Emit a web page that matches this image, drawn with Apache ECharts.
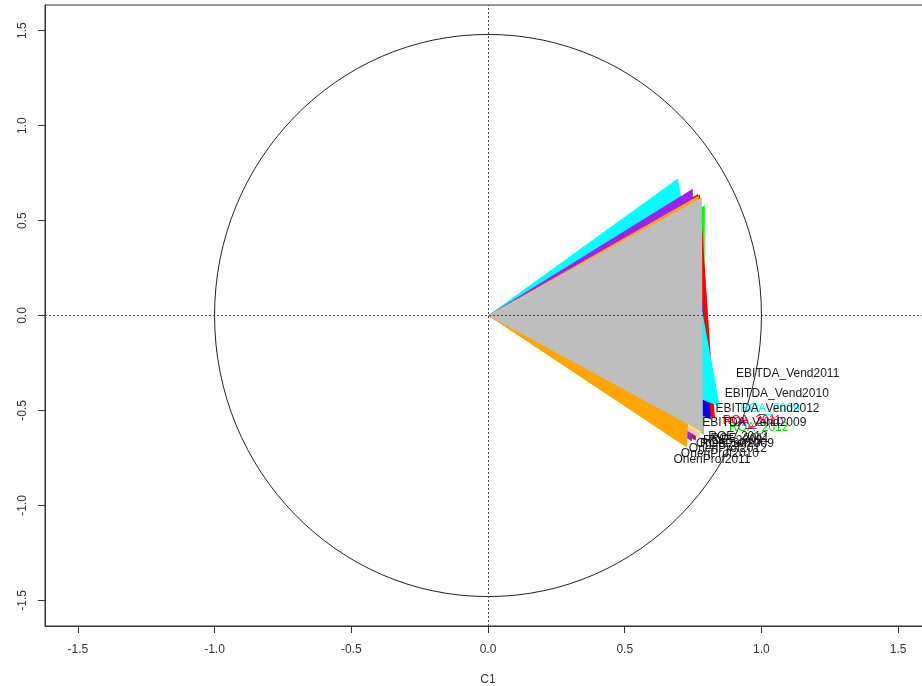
<!DOCTYPE html>
<html>
<head>
<meta charset="utf-8">
<script src="https://cdn.jsdelivr.net/npm/echarts@6/dist/echarts.min.js"></script>
<style>
  html, body { margin: 0; padding: 0; background: #ffffff; }
  #chart { width: 922px; height: 686px; }
</style>
</head>
<body>
<div id="chart"></div>
<script>
// Axis ticks (both axes)
const tickValues = [-1.5, -1.0, -0.5, 0.0, 0.5, 1.0, 1.5];

// Fans: each one is a triangle from the origin to an upper and a lower vertex
// (listed in drawing order, back to front)
const fanUpperX = [0.793, 0.775, 0.757, 0.694, 0.768, 0.749, 0.765, 0.770, 0.771, 0.782];
const fanUpperY = [0.579, 0.637, 0.605, 0.721, 0.640, 0.668, 0.610, 0.600, 0.632, 0.621];
const fanLowerX = [0.789, 0.830, 0.815, 0.848, 0.760, 0.746, 0.775, 0.782, 0.727, 0.786];
const fanLowerY = [-0.626, -0.542, -0.547, -0.479, -0.660, -0.663, -0.647, -0.621, -0.695, -0.616];

// Variable labels and their positions
const labelText = [
  'OneriProf2009', 'OneriProf2012', 'OneriProf2010', 'OneriProf2011',
  'ROE_2012', 'ROE_2009', 'ROE_2011', 'ROE_2010',
  'ROA_2012', 'ROA_2010', 'ROA_2011', 'ROA_2009',
  'EBITDA_Vend2009', 'EBITDA_Vend2012', 'EBITDA_Vend2010', 'EBITDA_Vend2011'
];
const labelX = [
  0.903, 0.877, 0.848, 0.819,
  0.914, 0.895, 0.921, 0.884,
  0.990, 0.972, 0.965, 1.031,
  0.974, 1.022, 1.056, 1.096
];
const labelY = [
  -0.674, -0.700, -0.726, -0.758,
  -0.637, -0.658, -0.647, -0.674,
  -0.589, -0.563, -0.553, -0.489,
  -0.563, -0.489, -0.411, -0.305
];

// Correlation circle radii (x, y)
const circleRadius = [1.0, 1.48];

// Styles
const fanColors = ['#00FF00', '#FF0000', '#0000FF', '#00FFFF', '#A52A2A', '#A020F0', '#FFC0CB', '#FFFF00', '#FFA500', '#BEBEBE'];
const labelColors = [
  '#1a1a1a', '#1a1a1a', '#1a1a1a', '#1a1a1a',
  '#1a1a1a', '#1a1a1a', '#1a1a1a', '#1a1a1a',
  '#00DD00', '#A020F0', '#FF0000', '#00FFFF',
  '#1a1a1a', '#1a1a1a', '#1a1a1a', '#1a1a1a'
];
const FONT = '"Liberation Sans", Arial, sans-serif';

const fanData = fanUpperX.map((_, i) => [fanUpperX[i], fanUpperY[i], fanLowerX[i], fanLowerY[i]]);
const labelData = labelText.map((t, i) => ({ value: [labelX[i], labelY[i]], name: t }));

const chart = echarts.init(document.getElementById('chart'), null, { renderer: 'canvas' });

const axisCommon = {
  type: 'value',
  min: -1.62,
  max: 1.62,
  splitLine: { show: false },
  axisLine: { show: true, onZero: false, lineStyle: { color: '#333', width: 1 } },
  axisTick: { show: true, length: 7, customValues: tickValues, lineStyle: { color: '#333' } },
  axisLabel: {
    customValues: tickValues,
    formatter: v => Number(v).toFixed(1),
    color: '#333',
    fontFamily: FONT,
    fontSize: 12,
    margin: 18
  },
  nameLocation: 'middle',
  nameTextStyle: { fontFamily: FONT, fontSize: 12, color: '#333' }
};

chart.setOption({
  animation: false,
  backgroundColor: '#ffffff',
  grid: {
    left: 45, top: 5, width: 886, height: 621,
    show: true, borderColor: '#333', borderWidth: 1,
    containLabel: false, outerBoundsMode: 'none'
  },
  xAxis: Object.assign({}, axisCommon, {
    name: 'C1',
    nameGap: 48
  }),
  yAxis: Object.assign({}, axisCommon, {
    min: -1.635,
    max: 1.635,
    name: 'C2',
    nameGap: 47,
    nameTextStyle: { fontFamily: FONT, fontSize: 12, color: '#00FFFF' },
    axisLabel: Object.assign({}, axisCommon.axisLabel, { rotate: 90, margin: 16 })
  }),
  series: [
    {
      // coloured fans
      type: 'custom',
      coordinateSystem: 'cartesian2d',
      data: fanData,
      encode: { x: [0, 2], y: [1, 3] },
      clip: true,
      silent: true,
      renderItem: function (params, api) {
        const o = api.coord([0, 0]);
        const a = api.coord([api.value(0), api.value(1)]);
        const b = api.coord([api.value(2), api.value(3)]);
        return {
          type: 'polygon',
          shape: { points: [o, a, b] },
          style: { fill: fanColors[params.dataIndex], stroke: null }
        };
      },
      z: 2
    },
    {
      // circle and dotted reference lines
      type: 'custom',
      coordinateSystem: 'cartesian2d',
      data: [[0, 0, circleRadius[0], circleRadius[1]]],
      encode: { x: 0, y: 1 },
      silent: true,
      renderItem: function (params, api) {
        const c = api.coord([api.value(0), api.value(1)]);
        const s = api.size([api.value(2), api.value(3)]);
        return {
          type: 'ellipse',
          shape: { cx: c[0], cy: c[1], rx: s[0], ry: s[1] },
          style: { fill: null, stroke: '#222', lineWidth: 1 }
        };
      },
      markLine: {
        silent: true,
        symbol: 'none',
        label: { show: false },
        lineStyle: { color: '#444', width: 1, type: [2, 2] },
        data: [{ xAxis: 0 }, { yAxis: 0 }]
      },
      z: 1
    },
    {
      // variable labels
      type: 'custom',
      coordinateSystem: 'cartesian2d',
      data: labelData,
      encode: { x: 0, y: 1 },
      silent: true,
      renderItem: function (params, api) {
        const p = api.coord([api.value(0), api.value(1)]);
        return {
          type: 'text',
          x: p[0],
          y: p[1],
          style: {
            text: labelText[params.dataIndex],
            fill: labelColors[params.dataIndex],
            font: '12px ' + FONT,
            align: 'center',
            verticalAlign: 'middle'
          }
        };
      },
      z: 5
    }
  ]
});
</script>
</body>
</html>
